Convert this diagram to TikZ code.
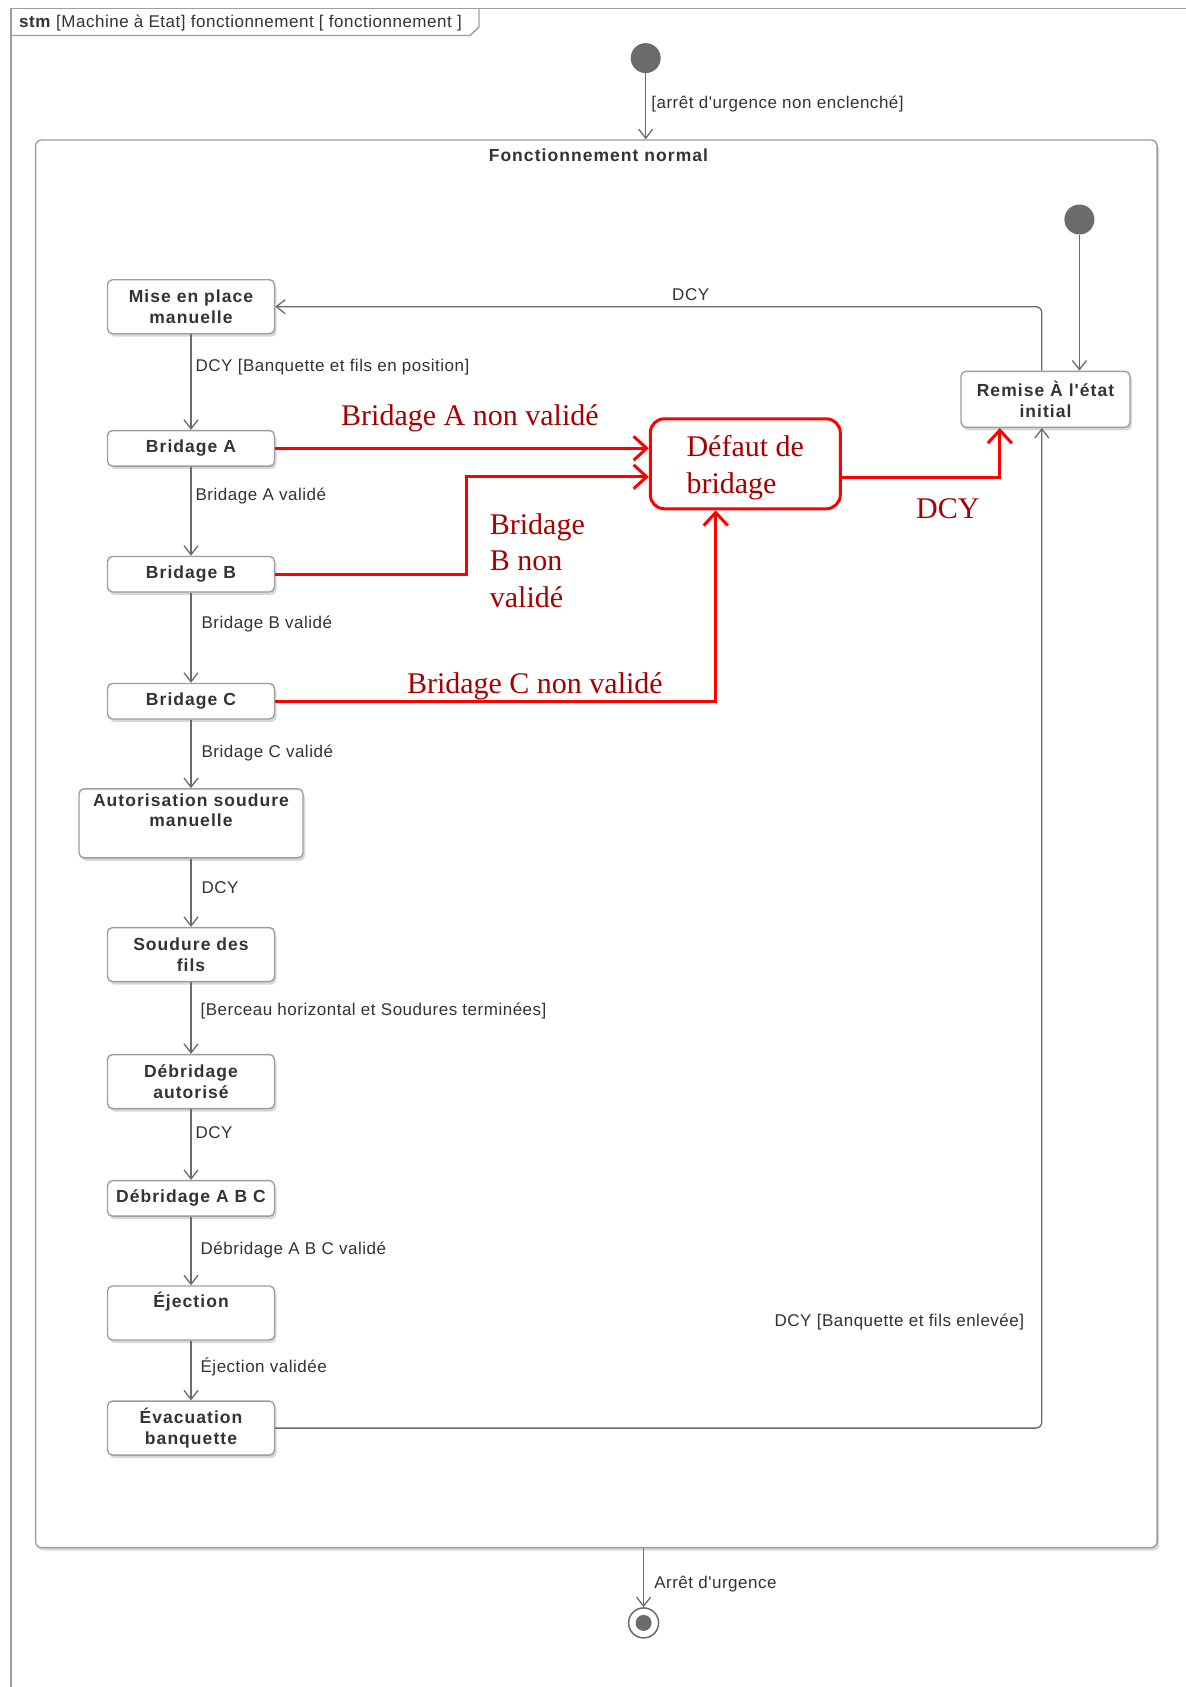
\documentclass[tikz,border=0pt]{standalone}
\usepackage{fontspec}
\setmainfont{Liberation Sans}
\newfontfamily\gardefont[LetterSpace=3]{Liberation Sans}
\newfontfamily\etatfont[LetterSpace=6]{Liberation Sans}
\newfontfamily\rougefont{Liberation Serif}
\usetikzlibrary{arrows.meta}
\usetikzlibrary{shadows}
\definecolor{mgris}{rgb}{0.42, 0.42, 0.42}
\definecolor{mbord}{rgb}{0.62, 0.62, 0.62}
\definecolor{mtexte}{rgb}{0.2, 0.2, 0.2}
\definecolor{mrouge}{rgb}{1, 0, 0}
\definecolor{mbrun}{rgb}{0.66, 0, 0}
\tikzset{etat/.style = {draw=mbord, line width=1.4pt, fill=white, rounded corners=5pt,
                        drop shadow={opacity=0.3, shadow xshift=2pt, shadow yshift=-3pt},
                        minimum width=167pt, minimum height=35.5pt, align=center, inner sep=2pt,
                        font=\etatfont\fontsize{17.5}{20.5}\selectfont\bfseries, text=mtexte},
         trans/.style = {draw=mgris, line width=1.3pt, -{Straight Barb[length=9pt, width=14pt]}},
         garde/.style = {font=\gardefont\fontsize{17}{19}\selectfont, text=mtexte, inner sep=2pt},
         defaut/.style = {draw=mrouge, line width=3pt, -{Straight Barb[length=13pt, width=24pt]}},
         rouge/.style = {font=\rougefont\fontsize{30}{36.5}\selectfont, text=mbrun, inner sep=0pt},
         point/.style = {circle, fill=mgris, minimum size=30pt, inner sep=0pt}}

\begin{document}
\begin{tikzpicture}[x=1pt, y=-1pt]
    \useasboundingbox (0,0) rectangle (1186,1687);
    % cadre du diagramme
    \draw [mbord, line width=1.6pt] (10.8,1687) -- (10.8,8.6) -- (1186,8.6);
    \draw [mbord, line width=1.4pt] (10.8,35.5) -- (470,35.5) -- (479,27) -- (479,8.6);
    \node [garde, anchor=west] (titre) at (17,23) {\textbf{stm} [Machine à Etat] fonctionnement [ fonctionnement ]};

    % etat composite
    \node [etat, rounded corners=6pt, minimum width=1121.5pt, minimum height=1407.7pt] (fonct) at (596.3,843.8) {};
    \node [garde, font=\etatfont\fontsize{17.5}{20}\selectfont\bfseries] (nomfonct) at (598.4,155) {Fonctionnement normal};

    \node [point] (init) at (645.7,58.1) {};
    \node [point] (initB) at (1079.4,219.5) {};

    \node [etat, minimum height=54pt] (mise) at (191,306.7) {Mise en place\\manuelle};
    \node [etat] (bridA) at (191,448.3) {Bridage A};
    \node [etat] (bridB) at (191,574.2) {Bridage B};
    \node [etat] (bridC) at (191,701.2) {Bridage C};
    \node [etat, minimum width=224pt, minimum height=69pt] (autor) at (191,823.3) {Autorisation soudure\\manuelle\\\strut};
    \node [etat, minimum height=54pt] (soud) at (191,954.6) {Soudure des\\fils};
    \node [etat, minimum height=54pt] (debaut) at (191,1081.6) {Débridage\\autorisé};
    \node [etat] (debabc) at (191,1198.4) {Débridage A B C};
    \node [etat, minimum height=54pt] (eject) at (191,1313) {Éjection\\\strut};
    \node [etat, minimum height=54pt] (evac) at (191,1428.1) {Évacuation\\banquette};
    \node [etat, minimum width=169pt, minimum height=56pt] (remise) at (1045.5,399.3) {Remise À l'état\\initial};

    \node [circle, draw=mgris, line width=1.5pt, fill=white, minimum size=30pt, inner sep=0pt] (fin) at (643.6,1622.9) {};
    \fill [mgris] (fin.center) circle (8pt);

    % transitions
    \draw [trans] (init) -- (init |- fonct.north) node [garde, pos=0.47, anchor=west, xshift=3pt] (g0) {[arrêt d'urgence non enclenché]};
    \draw [trans] (initB) -- (initB |- remise.north);
    \draw [trans] (mise) -- (bridA) node [garde, pos=0.34, anchor=west, xshift=2pt] (g1) {DCY [Banquette et fils en position]};
    \draw [trans] (bridA) -- (bridB) node [garde, pos=0.33, anchor=west, xshift=2pt] (g2) {Bridage A validé};
    \draw [trans] (bridB) -- (bridC) node [garde, pos=0.35, anchor=west, xshift=8pt] (g3) {Bridage B validé};
    \draw [trans] (bridC) -- (autor) node [garde, pos=0.49, anchor=west, xshift=8pt] (g4) {Bridage C validé};
    \draw [trans] (autor) -- (soud) node [garde, pos=0.42, anchor=west, xshift=8pt] (g5) {DCY};
    \draw [trans] (soud) -- (debaut) node [garde, pos=0.40, anchor=west, xshift=7pt] (g6) {[Berceau horizontal et Soudures terminées]};
    \draw [trans] (debaut) -- (debabc) node [garde, pos=0.33, anchor=west, xshift=2pt] (g7) {DCY};
    \draw [trans] (debabc) -- (eject) node [garde, pos=0.49, anchor=west, xshift=7pt] (g8) {Débridage A B C validé};
    \draw [trans] (eject) -- (evac) node [garde, pos=0.44, anchor=west, xshift=7pt] (g9) {Éjection validée};
    \draw [trans, rounded corners=6pt] (evac.east) -| ([xshift=-3.7pt]remise.south) node [garde, pos=0.553, anchor=east, xshift=-15pt] (g10) {DCY [Banquette et fils enlevée]};
    \draw [trans, rounded corners=6pt] ([xshift=-3.7pt]remise.north) |- (mise.east) node [garde, pos=0.729, anchor=south, yshift=3pt] (g11) {DCY};
    \draw [trans] (fonct.south -| fin) -- (fin) node [garde, pos=0.6, anchor=west, xshift=8pt] (g12) {Arrêt d'urgence};

    % ajout en rouge
    \node [rouge, draw=mrouge, line width=3pt, rounded corners=14pt, minimum width=190pt, minimum height=90pt] (defaut) at (745.3,463.8) {\raisebox{-4pt}[\height][\depth]{\begin{tabular}{@{}l@{}}Défaut de\\bridage\end{tabular}}};
    \coordinate (coudeB) at (466,476.8);
    \draw [defaut] (bridA.east) -- (bridA.east -| defaut.west);
    \draw [defaut] (bridB.east) -| (coudeB) -- (coudeB -| defaut.west);
    \draw [defaut] (bridC.east) -| ([xshift=-29.6pt]defaut.south);
    \draw [defaut] ([yshift=-14pt]defaut.east) -| ([xshift=-45.7pt]remise.south);
    \node [rouge, anchor=west] (txtA) at (341,418.6) {Bridage A non validé};
    \node [rouge, anchor=west, align=left] (txtB) at (489.7,560.7) {Bridage\\B non\\validé};
    \node [rouge, anchor=west] (txtC) at (406.8,686.6) {Bridage C non validé};
    \node [rouge, anchor=west] (txtD) at (916,509) {DCY};
\end{tikzpicture}
\end{document}
